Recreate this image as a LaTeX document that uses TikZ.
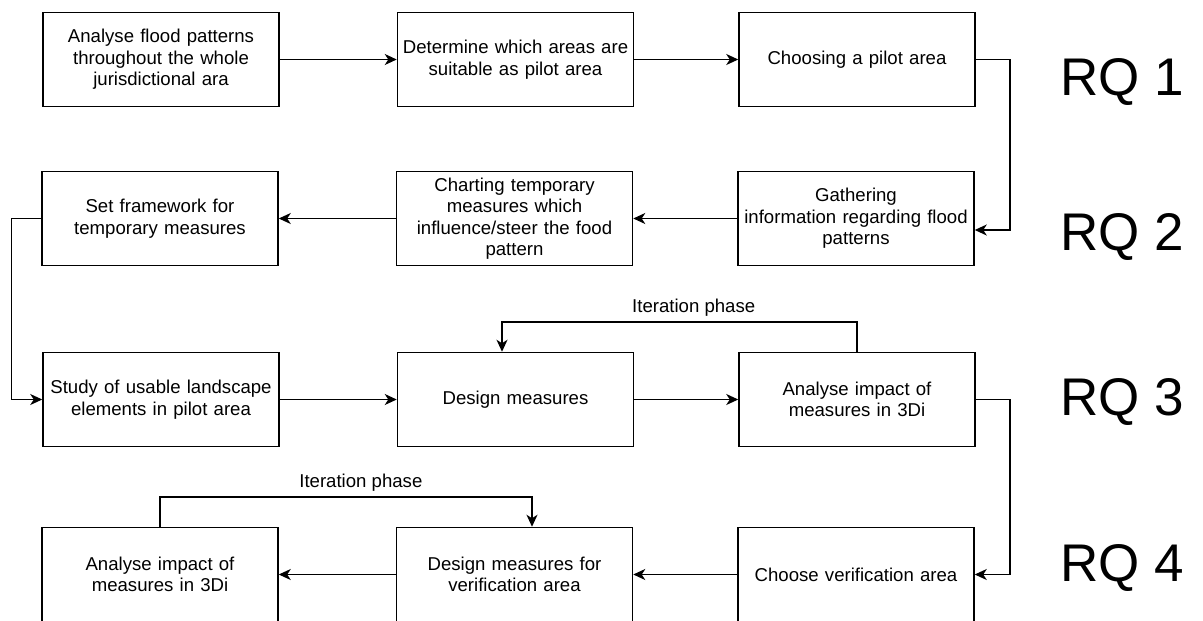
\documentclass[tikz,border=0pt]{standalone}
\usepackage{fontspec}
\setmainfont{Liberation Sans}
\usetikzlibrary{arrows.meta}
\usetikzlibrary{positioning}

\begin{document}
\begin{tikzpicture}[
  x=1pt, y=-1pt,
  every node/.style={font=\fontsize{18.6}{21.4}\selectfont},
  stepbox/.style={rectangle, draw, line width=1.5pt, minimum width=236pt,
    minimum height=94pt, text width=230pt, inner sep=2pt, align=center},
  rqlabel/.style={font=\fontsize{53}{60}\selectfont, anchor=west, inner sep=0pt},
  flow/.style={draw, line width=1.5pt, -{Stealth[length=12pt,width=11pt,inset=3.5pt]}}
]
\useasboundingbox (0,0) rectangle (1203,621);

% row 1
\node[stepbox] (flood) at (161,59.5) {Analyse flood patterns\\throughout the whole\\jurisdictional ara};
\node[stepbox, right=117pt of flood] (suit) {Determine which areas are\\suitable as pilot area};
\node[stepbox, right=104pt of suit] (pilot) {Choosing a pilot area};

% row 2
\node[stepbox] (gather) at (856,218.5) {Gathering\\information regarding flood\\patterns};
\node[stepbox, left=104pt of gather] (chart) {Charting temporary\\measures which\\influence/steer the food\\pattern};
\node[stepbox, left=117pt of chart] (setfw) {Set framework for\\temporary measures};

% row 3
\node[stepbox] (study) at (161,399.5) {Study of usable landscape\\elements in pilot area};
\node[stepbox, right=117pt of study] (design) {Design measures};
\node[stepbox, right=104pt of design] (impact) {Analyse impact of\\measures in 3Di};

% row 4
\node[stepbox] (choose) at (856,574.5) {Choose verification area};
\node[stepbox, left=104pt of choose] (designv) {Design measures for\\verification area};
\node[stepbox, left=117pt of designv] (impactv) {Analyse impact of\\measures in 3Di};

% research questions
\node[rqlabel] (rq1) at (1060,82) {RQ 1};
\node[rqlabel] (rq2) at (1060,237) {RQ 2};
\node[rqlabel] (rq3) at (1060,402) {RQ 3};
\node[rqlabel] (rq4) at (1060,568) {RQ 4};

% connectors
\draw[flow] (flood) -- (suit);
\draw[flow] (suit) -- (pilot);
\draw[flow] (pilot.east) -- ++(34,0) |- ([yshift=-11.5pt]gather.east);
\draw[flow] (gather) -- (chart);
\draw[flow] (chart) -- (setfw);
\draw[flow] (setfw.west) -- ++(-30,0) |- (study.west);
\draw[flow] (study) -- (design);
\draw[flow] (design) -- (impact);
\draw[flow] (impact.east) -- ++(34,0) |- (choose.east);
\draw[flow] (choose) -- (designv);
\draw[flow] (designv) -- (impactv);

% iteration loops
\draw[flow] (impact.north) -- ++(0,-30)
  -| node[pos=0.23, above=1pt] {Iteration phase} ([xshift=-13.5pt]design.north);
\draw[flow] (impactv.north) -- ++(0,-30)
  -| node[pos=0.27, above=1pt] {Iteration phase} ([xshift=17.5pt]designv.north);
\end{tikzpicture}
\end{document}
